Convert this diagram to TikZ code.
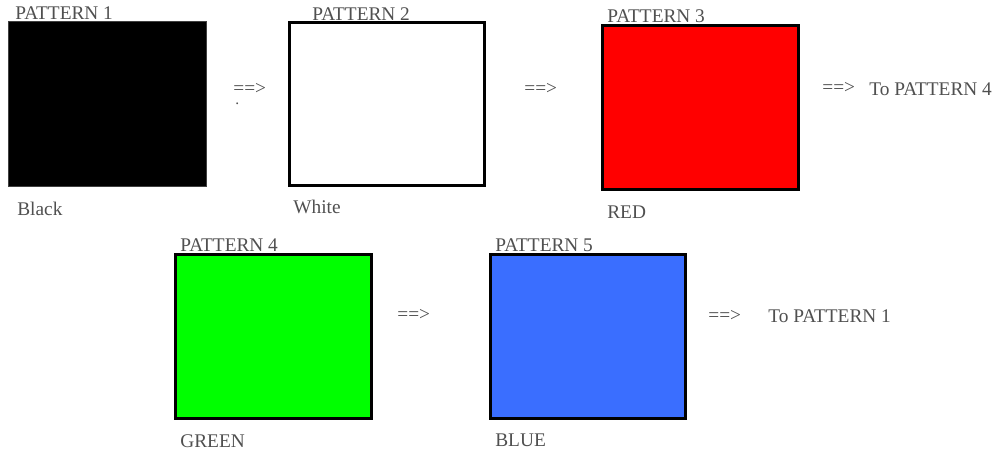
\documentclass[tikz,border=0pt]{standalone}
\usepackage{fontspec}
\setmainfont{Liberation Serif}
\usepackage{xcolor}
\usetikzlibrary{positioning}

\definecolor{patgreen}{RGB}{0,255,0}
\definecolor{patblue}{RGB}{58,110,255}
\definecolor{labgray}{RGB}{80,80,80}

\tikzset{
  patbox/.style 2 args={draw=black,line width=1.7pt,inner sep=0pt,
    minimum width=#1*0.02cm,minimum height=#2*0.02cm},
  lab/.style={text=labgray,inner sep=0pt,anchor=base west},
  nxt/.style={text=labgray,inner sep=0pt,anchor=west}
}

\begin{document}
\begin{tikzpicture}[x=0.02cm,y=-0.02cm,font=\fontsize{11}{12}\selectfont]
  \useasboundingbox[fill=white] (0,0) rectangle (998,454);
  % first row
  \node[patbox={198}{165},fill=black,draw=black!75,line width=0.6pt] (p1) at (107.5,104) {};
  \node[patbox={195}{163},fill=white] (p2) at (387,104) {};
  \node[patbox={196}{164},fill=red] (p3) at (700.5,107.5) {};
  \node[lab] (t1) at (15,19) {PATTERN 1};
  \node[lab] (t2) at (312,20) {PATTERN 2};
  \node[lab] (t3) at (607,22) {PATTERN 3};
  \node[lab] (c1) at (17,215) {Black};
  \node[lab] (c2) at (293,213) {White};
  \node[lab] (c3) at (607,218) {RED};
  \node[nxt] (a1) at (233,89) {==>};
  \node[lab,scale=0.8] (dot) at (235,104) {.};
  \node[nxt] (a2) at (524,89) {==>};
  \node[nxt] (a3) at (822,88) {==>};
  \node[lab] (to4) at (869,95) {To PATTERN 4};
  % second row
  \node[patbox={196}{164},fill=patgreen] (p4) at (273.5,336.5) {};
  \node[patbox={195}{164},fill=patblue] (p5) at (588,336.5) {};
  \node[lab] (t4) at (180,251) {PATTERN 4};
  \node[lab] (t5) at (495,251) {PATTERN 5};
  \node[lab] (c4) at (180,447) {GREEN};
  \node[lab] (c5) at (495,446) {BLUE};
  \node[nxt] (a4) at (397,315) {==>};
  \node[nxt] (a5) at (708,316) {==>};
  \node[lab] (to1) at (768,322) {To PATTERN 1};
\end{tikzpicture}
\end{document}
